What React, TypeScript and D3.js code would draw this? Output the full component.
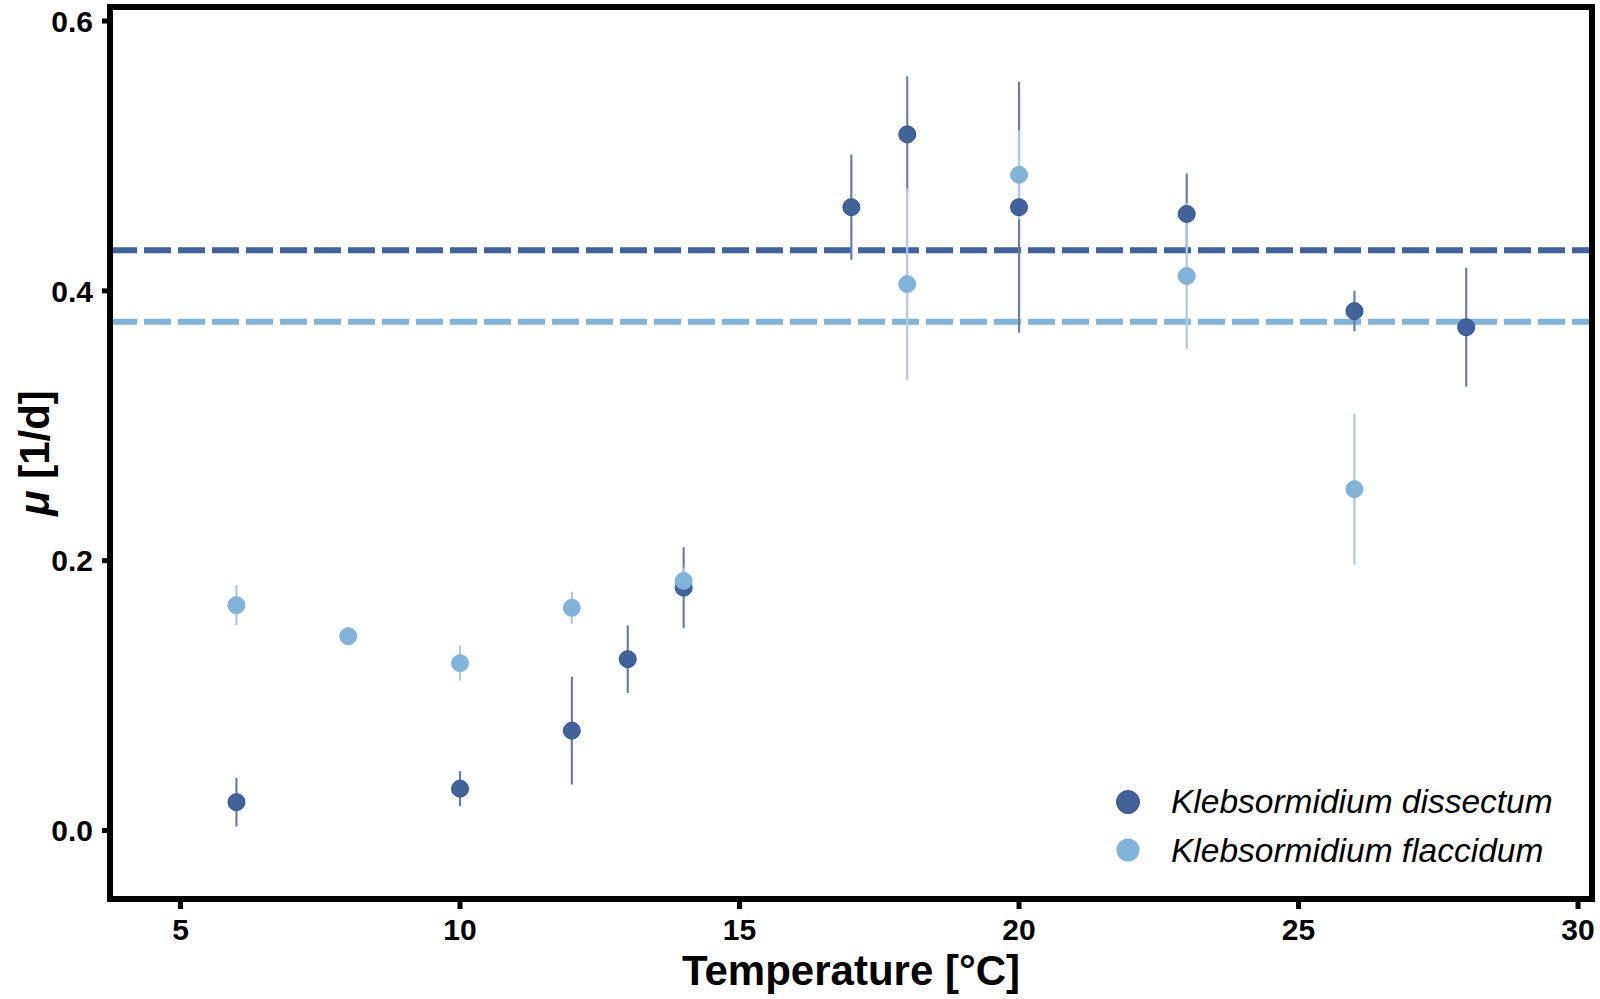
import React from 'react'
import * as d3 from 'd3'

// growth rate of two Klebsormidium strains against temperature
const dissectumTemp = [6, 10, 12, 13, 14, 17, 18, 20, 23, 26, 28]
const dissectumMu = [0.021, 0.031, 0.074, 0.127, 0.180, 0.462, 0.516, 0.462, 0.457, 0.385, 0.373]
const dissectumErr = [0.018, 0.013, 0.040, 0.025, 0.030, 0.039, 0.043, 0.093, 0.030, 0.015, 0.044]

const flaccidumTemp = [6, 8, 10, 12, 14, 18, 20, 23, 26]
const flaccidumMu = [0.167, 0.144, 0.124, 0.165, 0.185, 0.405, 0.486, 0.411, 0.253]
const flaccidumErr = [0.015, 0.006, 0.013, 0.012, 0.010, 0.071, 0.033, 0.054, 0.056]

const dissectumMean = 0.430
const flaccidumMean = 0.377

const xTicks = [5, 10, 15, 20, 25, 30]
const yTicks = [0.0, 0.2, 0.4, 0.6]

const DARK = '#41629a'
const DARK_STROKE = '#34558a'
const LIGHT = '#80b3d7'
const DARK_BAR = '#6580aa'
const LIGHT_BAR = '#a9cbe4'
const FONT = '"Liberation Sans", Arial, Helvetica, sans-serif'

const App: React.FC = () => {
  const width = 1600
  const height = 999
  const left = 110
  const right = 1592
  const top = 7
  const bottom = 899

  const x = d3.scaleLinear().domain([3.738, 30.25]).range([left, right])
  const y = d3.scaleLinear().domain([-0.0508, 0.6104]).range([bottom, top])

  const series = [
    { temp: dissectumTemp, mu: dissectumMu, err: dissectumErr, fill: DARK, stroke: DARK_STROKE, bar: DARK_BAR },
    { temp: flaccidumTemp, mu: flaccidumMu, err: flaccidumErr, fill: LIGHT, stroke: LIGHT, bar: LIGHT_BAR },
  ]

  return (
    <svg width={width} height={height} style={{ position: 'absolute', left: 0, top: 0, background: '#fff' }}>
      <defs>
        <clipPath id="panel">
          <rect x={left} y={top} width={right - left} height={bottom - top} />
        </clipPath>
      </defs>

      <g clipPath="url(#panel)">
        {/* reference lines */}
        <line x1={left} x2={right} y1={y(dissectumMean)} y2={y(dissectumMean)}
          stroke={DARK} strokeWidth={6} strokeDasharray="27 7" />
        <line x1={left} x2={right} y1={y(flaccidumMean)} y2={y(flaccidumMean)}
          stroke={LIGHT} strokeWidth={6} strokeDasharray="27 7" />

        {/* error bars */}
        {series.map((s, si) => (
          <g key={'err' + si}>
            {s.temp.map((t, i) => (
              <line key={i} x1={x(t)} x2={x(t)} y1={y(s.mu[i] - s.err[i])} y2={y(s.mu[i] + s.err[i])}
                stroke={s.bar} strokeWidth={2.2} />
            ))}
          </g>
        ))}

        {/* points */}
        {series.map((s, si) => (
          <g key={'pt' + si}>
            {s.temp.map((t, i) => (
              <circle key={i} cx={x(t)} cy={y(s.mu[i])} r={8.5} fill={s.fill} stroke={s.stroke} strokeWidth={1} />
            ))}
          </g>
        ))}
      </g>

      {/* panel border */}
      <rect x={left} y={top} width={right - left} height={bottom - top} fill="none" stroke="#000" strokeWidth={6} />

      {/* y axis */}
      {yTicks.map(t => (
        <g key={t}>
          <line x1={left - 8} x2={left} y1={y(t)} y2={y(t)} stroke="#000" strokeWidth={5} />
          <text x={93} y={y(t)} dy="0.36em" textAnchor="end" fontFamily={FONT} fontWeight="bold" fontSize={30}>
            {d3.format('.1f')(t)}
          </text>
        </g>
      ))}

      {/* x axis */}
      {xTicks.map(t => (
        <g key={t}>
          <line x1={x(t)} x2={x(t)} y1={bottom} y2={bottom + 10} stroke="#000" strokeWidth={5} />
          <text x={x(t)} y={940} textAnchor="middle" fontFamily={FONT} fontWeight="bold" fontSize={30}>
            {t}
          </text>
        </g>
      ))}

      <text x={(left + right) / 2} y={985} textAnchor="middle" fontFamily={FONT} fontWeight="bold" fontSize={42}>
        Temperature [°C]
      </text>

      <text transform={`translate(49, ${(top + bottom) / 2}) rotate(-90)`} textAnchor="middle"
        fontFamily={FONT} fontWeight="bold" fontSize={42}>
        <tspan fontStyle="italic">μ</tspan> [1/d]
      </text>

      {/* legend */}
      <circle cx={1128} cy={802} r={11.5} fill={DARK} stroke={DARK_STROKE} strokeWidth={1} />
      <text x={1171} y={813} fontFamily={FONT} fontStyle="italic" fontSize={33.5}>Klebsormidium dissectum</text>
      <circle cx={1128} cy={850} r={11.5} fill={LIGHT} />
      <text x={1171} y={862} fontFamily={FONT} fontStyle="italic" fontSize={33.5}>Klebsormidium flaccidum</text>
    </svg>
  )
}

export default App
